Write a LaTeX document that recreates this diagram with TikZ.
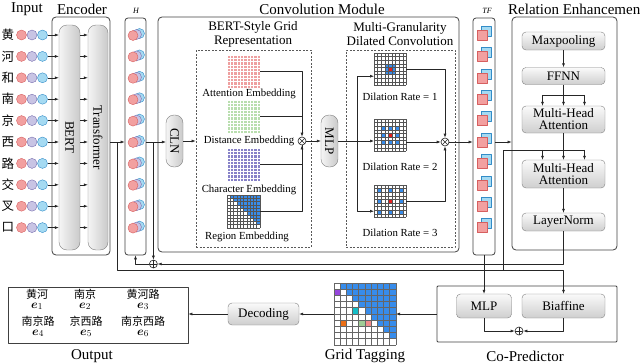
\documentclass[tikz,border=0pt]{standalone}
\usepackage{fontspec}
\usepackage{amsmath}
\setmainfont{Liberation Serif}
\newfontfamily\cjk{Noto Sans CJK SC}
\usetikzlibrary{arrows.meta,calc,positioning}

\definecolor{dotred}{RGB}{242,160,160}
\definecolor{dotredd}{RGB}{215,95,95}
\definecolor{dotpur}{RGB}{200,196,228}
\definecolor{dotpurd}{RGB}{120,110,175}
\definecolor{dotblu}{RGB}{165,218,242}
\definecolor{dotblud}{RGB}{50,140,200}
\definecolor{attpink}{RGB}{238,160,160}
\definecolor{distgreen}{RGB}{185,222,175}
\definecolor{charpur}{RGB}{135,130,200}
\definecolor{cellblue}{RGB}{55,140,235}
\definecolor{cellred}{RGB}{230,30,30}
\definecolor{gridgray}{RGB}{85,85,85}
\definecolor{tagpur}{RGB}{150,70,220}
\definecolor{tagcyan}{RGB}{20,190,200}
\definecolor{tagorange}{RGB}{235,110,20}
\definecolor{taggreen}{RGB}{160,205,150}
\definecolor{tagpink}{RGB}{240,140,140}

\newcommand\gridlines[5]{% x0, y0, cell, n, style
  \foreach \gk in {0,...,#4}{%
    \draw[#5] ({#1+\gk*#3},#2) -- ++(0,{#4*#3});%
    \draw[#5] (#1,{#2+\gk*#3}) -- ++({#4*#3},0);}}
\newcommand\tricells[3]{% upper triangle in blue
  \foreach \gr in {0,...,9}{\foreach \gc in {0,...,9}{%
    \ifnum\gc>\gr \fill[cellblue] ({#1+\gc*#3},{#2+\gr*#3}) rectangle ++(#3,#3);\fi}}}
\newcommand\dilcells[3]{% x0, y0, rate
  \foreach \di in {-1,0,1}{\foreach \dj in {-1,0,1}{%
    \fill[cellblue] ({#1+(4+\di*#3)*3.6},{#2+(4+\dj*#3)*3.6}) rectangle ++(3.6,3.6);}}%
  \fill[cellred] ({#1+14.4},{#2+14.4}) rectangle ++(3.6,3.6);}

\begin{document}
\begin{tikzpicture}[x=1pt, y=-1pt, >={Latex[length=4pt,width=3pt]}, line join=round,
  panel/.style={draw=black!75, line width=0.8pt, rounded corners=4pt},
  dashbox/.style={draw=black!65, line width=0.7pt, dash pattern=on 2pt off 1.5pt},
  hpill/.style={draw=black!50, rounded corners=4pt, top color=gray!4, bottom color=gray!38,
    font=\fontsize{13}{12}\selectfont, align=center, inner sep=0pt},
  vpill/.style={draw=black!50, rounded corners=8pt, left color=gray!8, right color=gray!42, inner sep=0pt},
  vtext/.style={rotate=-90, font=\fontsize{13}{14}\selectfont, inner sep=0pt},
  conn/.style={draw=black!85, line width=0.6pt},
  ttl/.style={font=\fontsize{15}{16}\selectfont, inner sep=0pt},
  sub/.style={font=\fontsize{13}{14}\selectfont, inner sep=0pt, align=center},
  lbl/.style={font=\fontsize{10.8}{12}\selectfont, inner sep=0pt},
  varlbl/.style={font=\itshape\fontsize{8}{8}\selectfont, inner sep=0pt},
  gridnode/.style={inner sep=0pt, outer sep=0pt},
  otimes/.style={circle, draw=black!85, fill=white, line width=0.6pt, minimum size=8pt, inner sep=0pt,
    path picture={\draw[black!85, line width=0.5pt]
      (path picture bounding box.north west) -- (path picture bounding box.south east)
      (path picture bounding box.north east) -- (path picture bounding box.south west);}},
  oplus/.style={circle, draw=black!85, fill=white, line width=0.6pt, minimum size=8pt, inner sep=0pt,
    path picture={\draw[black!85, line width=0.5pt]
      (path picture bounding box.north) -- (path picture bounding box.south)
      (path picture bounding box.west) -- (path picture bounding box.east);}}]
  \useasboundingbox (0,0) rectangle (640,364);

  % titles
  \node[ttl] (inpt) at (27,9) {Input};
  \node[ttl] (enct) at (82,9) {Encoder};
  \node[varlbl] (hlbl) at (136,11) {H};
  \node[ttl] (convt) at (322,9) {Convolution Module};
  \node[varlbl] (tflbl) at (487,11) {TF};
  \node[ttl, anchor=west] (relt) at (508,9) {Relation Enhancement};

  % input tokens
  \foreach \ch [count=\i from 0] in {黄,河,和,南,京,西,路,交,叉,口}{
    \pgfmathsetmacro\ry{35+21.4*\i}
    \node[font=\cjk\fontsize{12.5}{13}\selectfont, inner sep=0pt] (ch\i) at (8,\ry) {\ch};
    \node[circle, draw=dotredd, fill=dotred, minimum size=10pt, inner sep=0pt] (cr\i) at (21.5,\ry) {};
    \node[circle, draw=dotpurd, fill=dotpur, minimum size=10pt, inner sep=0pt] (cp\i) at (32,\ry) {};
    \node[circle, draw=dotblud, fill=dotblu, minimum size=10pt, inner sep=0pt] (cb\i) at (42.5,\ry) {};
  }

  % encoder
  \node[panel, minimum width=58pt, minimum height=238pt] (enc) at (81,136) {};
  \node[vpill, minimum width=21pt, minimum height=225pt] (bert) at (69.5,137.5) {};
  \node[vtext] (bertt) at (bert) {BERT};
  \node[vpill, minimum width=20pt, minimum height=225pt] (trans) at (98,137.5) {};
  \node[vtext] (transt) at (trans) {Transformer};
  \foreach \i in {0,...,9}{
    \draw[conn,->] (cb\i) -- (cb\i -| bert.west);
    \draw[conn,->] (cb\i -| bert.east) -- (cb\i -| trans.west);
  }

  % H vectors
  \node[panel, rounded corners=3pt, minimum width=21pt, minimum height=237pt] (hbox) at (135.5,136.5) {};
  \foreach \i in {0,...,9}{
    \pgfmathsetmacro\ry{35+21.4*\i}
    \draw[dotblud, fill=dotblu] (139.5,{\ry-1.5}) circle (5pt);
    \draw[dotpurd, fill=dotpur] (136.5,{\ry-0.5}) circle (5pt);
    \draw[dotredd, fill=dotred] (133,{\ry+0.5}) circle (5pt);
  }

  % convolution module
  \node[panel, minimum width=301pt, minimum height=235pt] (conv) at (308.5,134.5) {};
  \node[vpill, minimum width=17pt, minimum height=52pt] (cln) at (174.5,141) {};
  \node[vtext] (clnt) at (cln) {CLN};
  \node[dashbox, minimum width=115pt, minimum height=197pt] (bsg) at (253.5,148.5) {};
  \node[sub] (bsgt) at (253,34) {BERT-Style Grid\\Representation};

  \fill[attpink] (227,55) rectangle ++(33,33);               % attention grid
  \gridlines{227}{55}{3.3}{10}{white, line width=0.4pt}
  \fill[distgreen] (227,100) rectangle ++(33,33);            % distance grid
  \gridlines{227}{100}{3.3}{10}{white, line width=0.4pt}
  \fill[charpur] (227,148) rectangle ++(33,33);              % character grid
  \gridlines{227}{148}{3.3}{10}{white, line width=0.4pt}
  \tricells{227}{195}{3.3}                                   % region grid
  \gridlines{227}{195}{3.3}{10}{gridgray, line width=0.45pt}
  \node[gridnode, minimum size=33pt] (attE) at (243.5,71.5) {};
  \node[gridnode, minimum size=33pt] (distE) at (243.5,116.5) {};
  \node[gridnode, minimum size=33pt] (charE) at (243.5,164.5) {};
  \node[gridnode, minimum size=33pt] (regE) at (243.5,211.5) {};
  \node[lbl] (attL) at (249,94) {Attention Embedding};
  \node[lbl] (distL) at (249,141) {Distance Embedding};
  \node[lbl] (charL) at (249,190) {Character Embedding};
  \node[lbl] (regL) at (247,237) {Region Embedding};
  \node[otimes] (ot1) at (302,141) {};

  \node[vpill, minimum width=17pt, minimum height=52pt] (mlp1) at (329.5,141) {};
  \node[vtext] (mlp1t) at (mlp1) {MLP};

  \node[dashbox, minimum width=109pt, minimum height=197pt] (mgd) at (400.5,148.5) {};
  \node[sub] (mgdt) at (400,34) {Multi-Granularity\\Dilated Convolution};
  \dilcells{374}{53}{1}
  \gridlines{374}{53}{3.6}{9}{gridgray, line width=0.5pt}
  \dilcells{374}{119}{2}
  \gridlines{374}{119}{3.6}{9}{gridgray, line width=0.5pt}
  \dilcells{374}{185}{3}
  \gridlines{374}{185}{3.6}{9}{gridgray, line width=0.5pt}
  \node[gridnode, minimum size=32.4pt] (dc1) at (390.2,69.2) {};
  \node[gridnode, minimum size=32.4pt] (dc2) at (390.2,135.2) {};
  \node[gridnode, minimum size=32.4pt] (dc3) at (390.2,201.2) {};
  \node[lbl] (dl1) at (400,97) {Dilation Rate = 1};
  \node[lbl] (dl2) at (400,167) {Dilation Rate = 2};
  \node[lbl] (dl3) at (400,233) {Dilation Rate = 3};
  \node[otimes] (ot2) at (445,142) {};

  % TF vectors
  \node[panel, rounded corners=3pt, minimum width=22pt, minimum height=237pt] (tfbox) at (484,136.5) {};
  \foreach \i in {0,...,9}{
    \pgfmathsetmacro\ry{35+21.4*\i}
    \filldraw[draw=dotblud, fill=dotblu] (481,{\ry-9}) rectangle ++(10,10);
    \filldraw[draw=dotredd, fill=dotred] (477,{\ry-5}) rectangle ++(10,10);
  }

  % relation enhancement
  \node[panel, minimum width=105pt, minimum height=233pt] (rel) at (564.5,133.5) {};
  \node[hpill, minimum width=83pt, minimum height=18pt] (maxp) at (563.5,41) {Maxpooling};
  \node[hpill, minimum width=83pt, minimum height=17pt] (ffnn) at (563.5,76) {FFNN};
  \node[hpill, minimum width=83pt, minimum height=27pt] (mha1) at (563.5,119.5) {Multi-Head\\Attention};
  \node[hpill, minimum width=83pt, minimum height=28pt] (mha2) at (563.5,174) {Multi-Head\\Attention};
  \node[hpill, minimum width=83pt, minimum height=18pt] (lnorm) at (563.5,222) {LayerNorm};

  % co-predictor
  \node[panel, rounded corners=1pt, minimum width=180pt, minimum height=56pt] (copred) at (527,314) {};
  \node[hpill, minimum width=55pt, minimum height=24pt] (mlp2) at (484,306) {MLP};
  \node[hpill, minimum width=83pt, minimum height=24pt] (biaf) at (563.5,306) {Biaffine};
  \node[oplus] (op2) at (519,331) {};
  \node[ttl] (copl) at (525,356) {Co-Predictor};

  % grid tagging
  \tricells{334}{283}{6.2}
  \fill[tagpur] (334,289.2) rectangle ++(6.2,6.2);
  \fill[tagcyan] (352.6,307.8) rectangle ++(6.2,6.2);
  \fill[tagorange] (340.2,320.2) rectangle ++(6.2,6.2);
  \fill[taggreen] (358.8,320.2) rectangle ++(6.2,6.2);
  \fill[tagpink] (365,320.2) rectangle ++(6.2,6.2);
  \gridlines{334}{283}{6.2}{10}{black!60, line width=0.9pt}
  \node[gridnode, minimum size=62pt] (tag) at (365,314) {};
  \node[ttl] (tagl) at (365,356) {Grid Tagging};

  % decoding and output
  \node[hpill, minimum width=71pt, minimum height=22pt] (dec) at (263.5,314) {Decoding};
  \node[draw=black!75, line width=0.8pt, minimum width=180pt, minimum height=56pt] (outb) at (98,315) {};
  \node[ttl] (outl) at (92,356) {Output};
  \foreach \w/\x/\y/\idx in {黄河/37/294/1, 南京/85/294/2, 黄河路/143/294/3,
                            南京路/38/321/4, 京西路/86/321/5, 南京西路/143/321/6}{
    \node[font=\cjk\fontsize{11}{11}\selectfont, inner sep=0pt] (w\idx) at (\x,\y) {\w};
    \node[font=\fontsize{13}{13}\selectfont, inner sep=0pt, anchor=base] (e\idx) at (\x,{\y+14})
      {$\boldsymbol{e}_{\idx}$};
  }

  % connectors
  \coordinate (encout) at ($(cb5 -| enc.east)+(7,0)$);
  \coordinate (busB) at ($(encout)+(0,128)$);
  \coordinate (hout) at ($(cb5 -| hbox.east)+(7,0)$);
  \node[oplus] (op1) at ($(hout)+(0,122)$) {};
  \draw[conn,->] (cb5 -| enc.east) -- (cb5 -| hbox.west);
  \draw[conn,->] (encout) -- (busB) -| (biaf.north);
  \draw[conn,->] (cb5 -| hbox.east) -- (cb5 -| cln.west);
  \draw[conn,->] (hout) -- (op1.north);
  \draw[conn,->] (op1.west) -| (hbox.south);
  \draw[conn,->] (cln.east) -- (cln.east -| bsg.west);

  \draw[conn,->] (attE.east) -| (ot1.north);
  \draw[conn] (distE.east) -- (distE.east -| ot1.north);
  \draw[conn] (regE.east) -| (ot1.south);
  \draw[conn,->] (charE.east) -| (ot1.south);
  \draw[conn,->] (ot1) -- (mlp1);

  \draw[conn] (mlp1.east) -- ++(19,0) coordinate (spl);
  \draw[conn,->] (spl) -- (spl -| dc2.west);
  \draw[conn,->] (spl) |- ($(dc1.west)+(0,7)$);
  \draw[conn,->] (spl) |- ($(dc3.west)+(0,10)$);
  \draw[conn,->] (dc1.east) -| (ot2.north);
  \draw[conn,->] (dc2.east |- ot2) -- (ot2.west);
  \draw[conn,->] (dc3.east) -| (ot2.south);
  \draw[conn,->] (ot2) -- (ot2 -| tfbox.west);
  \draw[conn,->] (ot2 -| tfbox.east) -- (ot2 -| rel.west);

  \draw[conn,->] (maxp) -- (ffnn);
  \draw[conn,->] (ffnn) -- (mha1);
  \draw[conn] ($(mha1.north)+(-21,-11)$) -- ($(mha1.north)+(21,-11)$);
  \draw[conn,->] ($(mha1.north)+(-21,-11)$) -- ++(0,11);
  \draw[conn,->] ($(mha1.north)+(21,-11)$) -- ++(0,11);
  \draw[conn,->] (mha1) -- (mha2);
  \coordinate (kv) at ($(mha2.north)+(-60.5,-10)$);
  \draw[conn] (kv |- busB) -- (kv) -- ($(mha2.north)+(21,-10)$);
  \draw[conn,->] ($(mha2.north)+(-21,-10)$) -- ++(0,10);
  \draw[conn,->] ($(mha2.north)+(21,-10)$) -- ++(0,10);
  \draw[conn,->] (mha2) -- (lnorm);
  \draw[conn,->] (lnorm.south) |- (op1.east);

  \draw[conn,->] (tfbox.south) -- (mlp2.north);
  \draw[conn,->] (mlp2.south) |- (op2.west);
  \draw[conn,->] (biaf.south) |- (op2.east);
  \draw[conn,->] (copred.west) -- (tag.east);
  \draw[conn,->] (tag.west) -- (dec.east);
  \draw[conn,->] (dec.west) -- (dec.west -| outb.east);
\end{tikzpicture}
\end{document}
